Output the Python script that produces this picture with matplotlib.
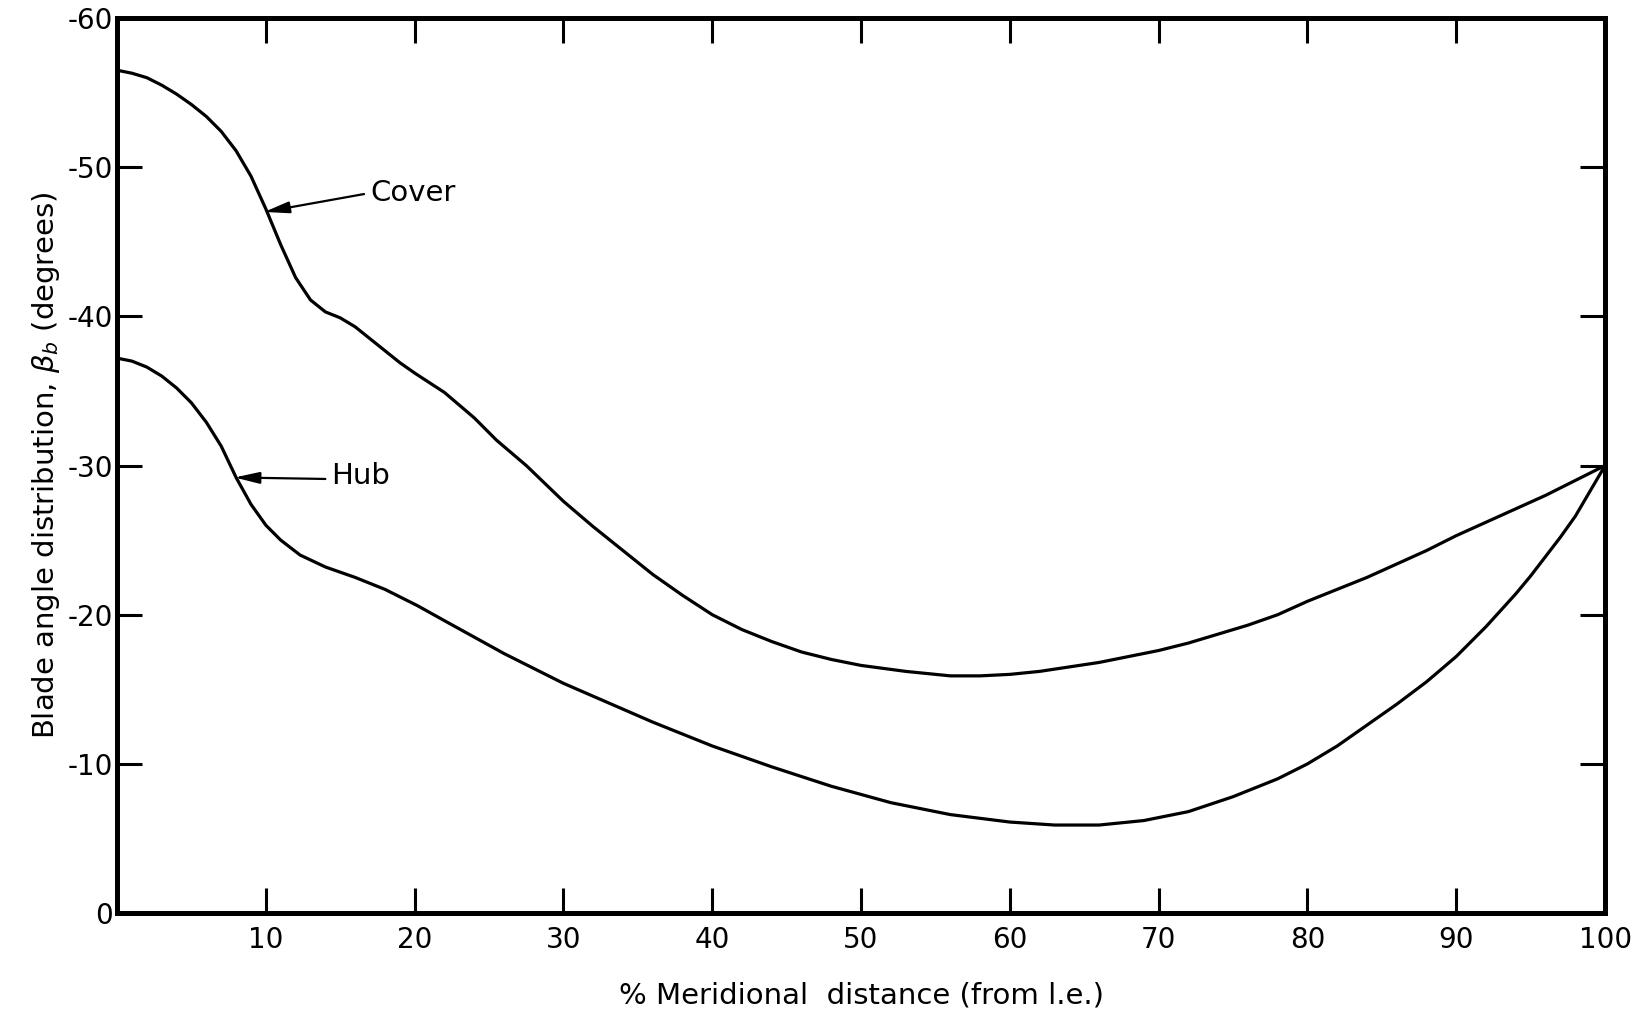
import matplotlib
matplotlib.use("Agg")
import matplotlib.pyplot as plt

# cover curve
cover_x = [0, 1, 2, 3, 4, 5, 6, 7, 8, 9, 10, 11, 12, 13, 14, 15, 16, 17,
           18, 19, 20, 22, 24, 25.5, 27.5, 30, 32, 34, 36, 38, 40, 42, 44, 46, 48,
           50, 53, 56, 58, 60, 62, 64, 66, 68, 70, 72, 74, 76, 78, 80, 82, 84,
           86, 88, 90, 92, 94, 96, 98, 100]
cover_y = [-56.5, -56.3, -56.0, -55.5, -54.9, -54.2, -53.4, -52.4, -51.1, -49.4,
           -47.2, -44.8, -42.6, -41.1, -40.3, -39.9, -39.3, -38.5, -37.7, -36.9,
           -36.2, -34.9, -33.2, -31.7, -30.0, -27.6, -25.9, -24.3, -22.7, -21.3,
           -20.0, -19.0, -18.2, -17.5, -17.0, -16.6, -16.2, -15.9, -15.9, -16.0,
           -16.2, -16.5, -16.8, -17.2, -17.6, -18.1, -18.7, -19.3, -20.0, -20.9,
           -21.7, -22.5, -23.4, -24.3, -25.3, -26.2, -27.1, -28.0, -29.0, -30.0]

# hub curve
hub_x = [0, 1, 2, 3, 4, 5, 6, 7, 8, 9, 10, 11, 12.3, 14, 16, 18, 20.2, 22, 24,
         26, 28, 30, 33, 36, 40, 44, 48, 52, 56, 60, 63, 66, 69, 72, 75, 78,
         80, 82, 84, 86, 88, 90, 91, 92, 93, 94, 95, 96, 97, 98, 99, 100]
hub_y = [-37.2, -37.0, -36.6, -36.0, -35.2, -34.2, -32.9, -31.3, -29.2, -27.4,
         -26.0, -25.0, -24.0, -23.2, -22.5, -21.7, -20.6, -19.6, -18.5, -17.4,
         -16.4, -15.4, -14.1, -12.8, -11.2, -9.8, -8.5, -7.4, -6.6, -6.1, -5.9,
         -5.9, -6.2, -6.8, -7.8, -9.0, -10.0, -11.2, -12.6, -14.0, -15.5, -17.2,
         -18.2, -19.2, -20.3, -21.4, -22.6, -23.9, -25.2, -26.6, -28.3, -30.0]

x_ticks = [10, 20, 30, 40, 50, 60, 70, 80, 90, 100]
y_ticks = [0, -10, -20, -30, -40, -50, -60]
y_ticklabels = ["0", "-10", "-20", "-30", "-40", "-50", "-60"]

plt.rcParams["font.family"] = "DejaVu Sans"

fig = plt.figure(figsize=(16.37, 10.18), dpi=100)
ax = fig.add_axes([0.0715, 0.1031, 0.909, 0.8792])

ax.plot(cover_x, cover_y, color="black", lw=2.3)
ax.plot(hub_x, hub_y, color="black", lw=2.3)

ax.set_xlim(0, 100)
ax.set_ylim(0, -60)
ax.set_xticks(x_ticks)
ax.set_yticks(y_ticks)
ax.set_yticklabels(y_ticklabels)

ax.tick_params(direction="in", length=18, width=2.2, labelsize=20,
               top=True, right=True, pad=9)
ax.tick_params(axis="y", pad=3)
for s in ax.spines.values():
    s.set_linewidth(3.6)

ax.set_xlabel("% Meridional  distance (from l.e.)", fontsize=21, labelpad=20)
ax.set_ylabel(r"Blade angle distribution, $\beta_b$ (degrees)", fontsize=21,
              labelpad=4)

arrow = dict(arrowstyle="-|>,head_length=1.5,head_width=0.35", color="black",
             lw=1.6, shrinkA=0, shrinkB=0)
ax.annotate("", xy=(9.9, -47.0), xytext=(16.6, -48.2), arrowprops=arrow)
ax.text(17.0, -48.3, "Cover", fontsize=21, va="center", ha="left")
ax.annotate("", xy=(7.9, -29.2), xytext=(14.0, -29.1), arrowprops=arrow)
ax.text(14.4, -29.3, "Hub", fontsize=21, va="center", ha="left")

fig.savefig("out.png", dpi=100)
